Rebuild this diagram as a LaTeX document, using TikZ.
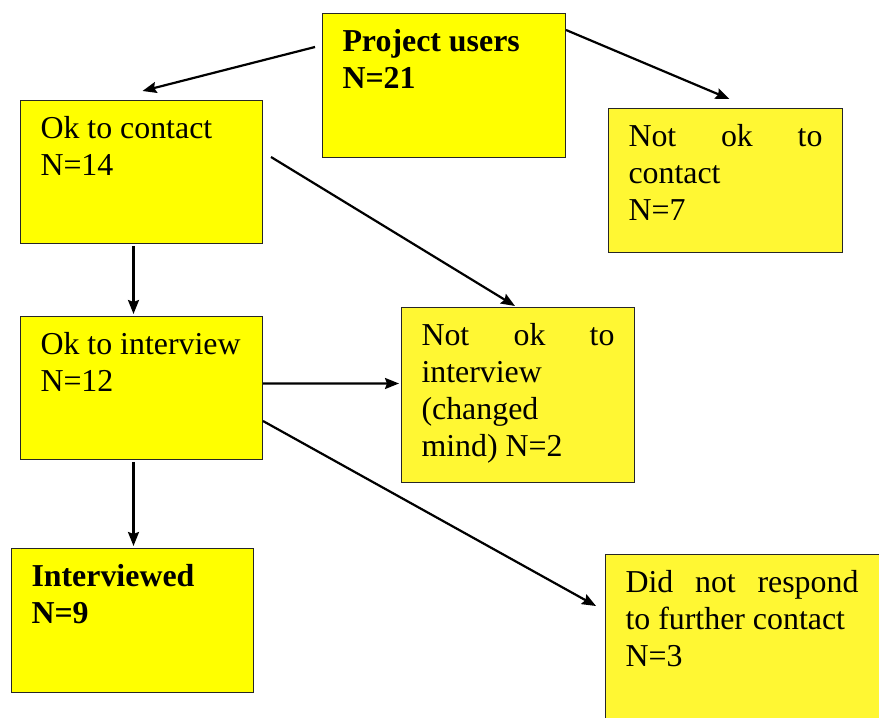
\documentclass[tikz,border=0pt]{standalone}
\usepackage{fontspec}
\setmainfont{Liberation Serif}
\usetikzlibrary{arrows.meta,calc}
\definecolor{boxyellow}{RGB}{255,255,0}
\definecolor{paleyellow}{RGB}{255,247,51}
\newcommand{\boxtext}[3]{\parbox[t][#1bp][t]{#2bp}{\hyphenpenalty=10000\exhyphenpenalty=10000\strut #3}}
\tikzset{
  ybox/.style={draw=black!85, line width=1bp, fill=boxyellow, inner xsep=20bp,
    inner ysep=12.6bp, anchor=north west, font=\fontsize{32}{37}\selectfont},
  pbox/.style={ybox, fill=paleyellow},
  conn/.style={-{Stealth[length=14bp,width=11bp,inset=2bp]}, line width=2.2bp}
}
\begin{document}
\begin{tikzpicture}[x=1bp,y=1bp]
  \useasboundingbox (0,0) rectangle (879,718);
  \clip (0,0) rectangle (879,718);
  % boxes
  \node[ybox] (pu) at (322,705) {\boxtext{118.8}{203}{\bfseries Project users\\N=21}};
  \node[ybox] (otc) at (20,618) {\boxtext{117.8}{202}{Ok to contact\\N=14}};
  \node[pbox] (notc) at (608,610) {\boxtext{118.8}{194}{Not ok to contact\\N=7}};
  \node[ybox] (oti) at (20,402) {\boxtext{117.8}{202}{Ok to interview\\N=12}};
  \node[pbox] (noti) at (401,411) {\boxtext{149.8}{193}{Not ok to interview (changed mind) N=2}};
  \node[ybox] (intv) at (11,170) {\boxtext{118.8}{202}{\bfseries Interviewed\\N=9}};
  \node[pbox] (dnr) at (605,164) {\makebox[300bp][l]{\boxtext{158.8}{233}{Did not respond\linebreak to further contact\\N=3}}};
  % arrows
  \draw[conn] ($(pu.north west)+(-7,-34)$) -- ($(otc.north)+(1,9)$);
  \draw[conn] ($(pu.north east)+(0,-17)$) -- ($(notc.north)+(4,9)$);
  \draw[conn] ($(otc.north east)+(8,-57)$) -- ($(noti.north)+(-3,1)$);
  \draw[conn] ($(otc.south)+(-8,-2)$) -- ($(oti.north)+(-8,2)$);
  \draw[conn] ($(oti.east)+(0,4.5)$) -- ($(noti.west)+(-2,11.5)$);
  \draw[conn] ($(oti.south east)+(0,39)$) -- ($(dnr.north west)+(-9,-52)$);
  \draw[conn] ($(oti.south)+(-8,-2)$) -- ($(intv.north)+(1,2)$);
\end{tikzpicture}
\end{document}
